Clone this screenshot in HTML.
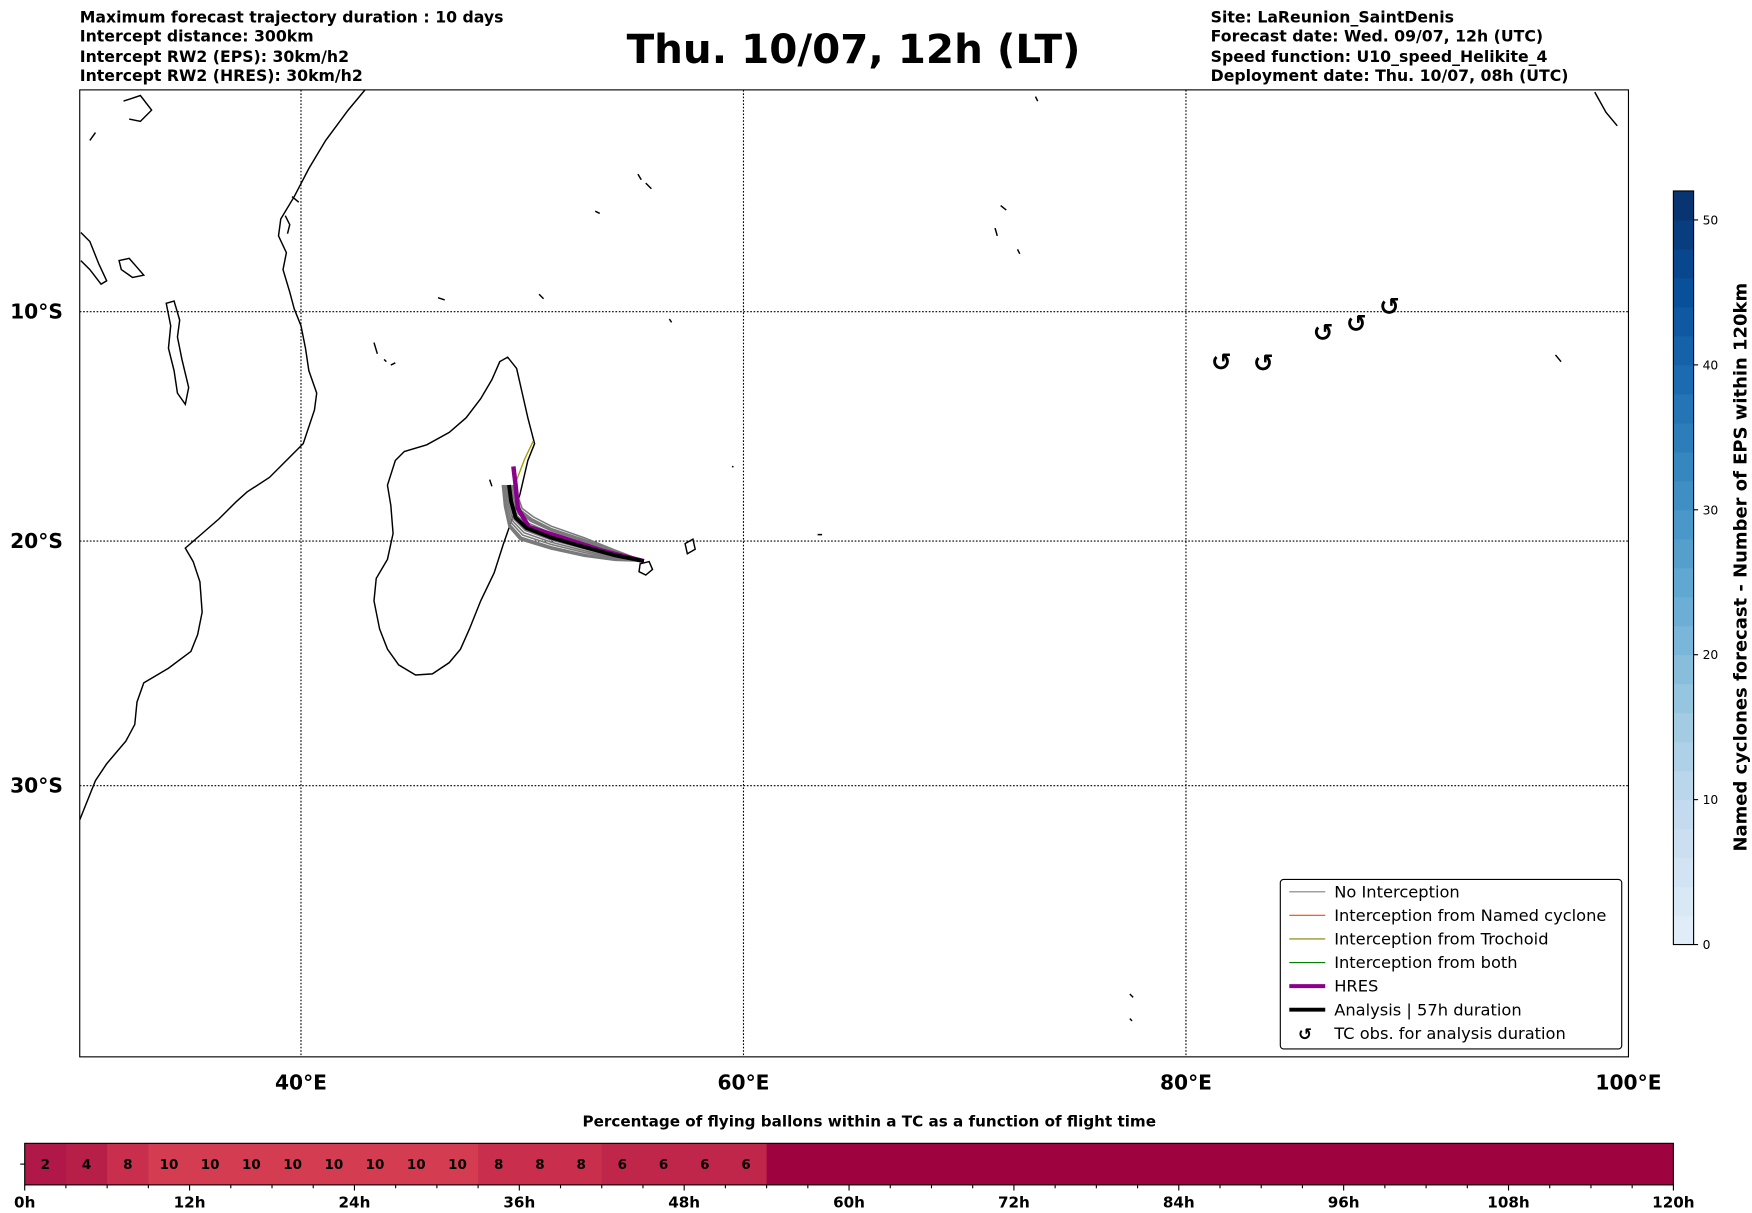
<!DOCTYPE html>
<html><head><meta charset="utf-8"><style>
html,body{margin:0;padding:0;background:#fff;}
svg{display:block;}
text{font-family:"DejaVu Sans","Liberation Sans",sans-serif;}
</style></head><body>
<svg id="fig" width="1752" height="1213" viewBox="0 0 1560 1080" xmlns="http://www.w3.org/2000/svg">
<rect width="1560" height="1080" fill="#fff"/>
<g font-size="14" font-weight="bold">
<text x="71" y="20">Maximum forecast trajectory duration : 10 days</text>
<text x="71" y="37">Intercept distance: 300km</text>
<text x="71" y="55">Intercept RW2 (EPS):  30km/h2</text>
<text x="71" y="72">Intercept RW2 (HRES): 30km/h2</text>
</g>
<text x="760" y="56" text-anchor="middle" font-size="36" font-weight="bold">Thu. 10/07, 12h (LT)</text>
<g font-size="14" font-weight="bold">
<text x="1078" y="20">Site: LaReunion_SaintDenis</text>
<text x="1078" y="37">Forecast date: Wed. 09/07, 12h (UTC)</text>
<text x="1078" y="55">Speed function: U10_speed_Helikite_4</text>
<text x="1078" y="72">Deployment date: Thu. 10/07, 08h (UTC)</text>
</g>
<defs><clipPath id="mapclip"><rect x="71" y="80" width="1379" height="861"/></clipPath></defs>
<g id="map">
<g id="grid"></g>
<g clip-path="url(#mapclip)" fill="none" stroke="#000" stroke-width="1.3">
<path d="M325,80 L310,98 L290,125 L275,150 L262,175 L250,195 L248,210 L255,225 L252,240 L258,260 L262,275 L268,290 L272,310 L275,330 L282,350 L280,365 L270,395 L255,410 L240,425 L220,438 L210,447 L195,462 L180,475 L165,488 L172,500 L178,518 L180,545 L176,565 L170,580 L150,595 L128,608 L122,625 L120,645 L112,660 L95,680 L85,695 L71,730"/>
<path d="M72,207 L80,215 L88,235 L95,250 L90,253 L80,240 L72,232"/>
<path d="M148,270 L155,268 L160,285 L158,300 L162,320 L168,345 L165,360 L158,350 L155,330 L150,310 L152,290 Z"/>
<path d="M106,232 L115,230 L122,238 L128,245 L118,247 L108,240 Z"/>
<path d="M452,318 L460,328 L465,350 L470,372 L476,395 L470,410 L463,440 L455,465 L448,485 L440,510 L428,535 L418,560 L410,578 L400,590 L385,600 L370,601 L355,592 L345,578 L338,560 L333,535 L335,515 L345,498 L350,475 L348,450 L345,432 L352,410 L360,402 L380,396 L400,385 L415,372 L428,355 L438,338 L445,322 Z"/>
<path d="M570,502 L578,500 L581,507 L575,512 L569,509 Z"/>
<path d="M610,484 L617,480 L619,489 L612,493 Z"/>
<path d="M333,305 L336,315 M348,325 L352,323 M342,320 L344,322"/>
<path d="M568,155 L571,160 M575,163 L580,168 M530,188 L534,190 M891,183 L896,187 M886,203 L888,210 M906,222 L908,226 M390,265 L396,267 M480,262 L484,266 M596,284 L598,287 M1385,316 L1390,322 M1006,885 L1009,888 M1006,907 L1008,909 M922,86 L924,90 M1420,82 L1430,100 L1440,112 M436,427 L438,433 M652,415 L653,416 M728,476 L732,476"/>
<path d="M254,192 L258,200 L256,208 M260,175 L266,180 M80,125 L85,118 M110,90 L125,85 L135,98 L125,108 L115,106"/>
</g>
<g id="traj" clip-path="url(#mapclip)"></g>
<g id="tcobs"></g>
<rect x="71" y="80" width="1379" height="861" fill="none" stroke="#000" stroke-width="1"/>
<g id="latlabels" font-size="18" font-weight="bold"></g>
<g id="lonlabels" font-size="18" font-weight="bold"></g>
</g>
<g>
<rect x="1140" y="783" width="304" height="151" rx="3" fill="#fff" stroke="#000" stroke-width="1"/>
<g font-size="14.5">
<line x1="1148" y1="794" x2="1180" y2="794" stroke="#808080" stroke-width="1"/><text x="1188" y="799">No Interception</text>
<line x1="1148" y1="815" x2="1180" y2="815" stroke="#ff4500" stroke-width="1"/><text x="1188" y="820">Interception from Named cyclone</text>
<line x1="1148" y1="836" x2="1180" y2="836" stroke="#808000" stroke-width="1"/><text x="1188" y="841">Interception from Trochoid</text>
<line x1="1148" y1="857" x2="1180" y2="857" stroke="#008000" stroke-width="1"/><text x="1188" y="862">Interception from both</text>
<line x1="1148" y1="878" x2="1180" y2="878" stroke="#8b008b" stroke-width="3.5"/><text x="1188" y="883">HRES</text>
<line x1="1148" y1="899" x2="1180" y2="899" stroke="#000" stroke-width="3.5"/><text x="1188" y="904">Analysis | 57h duration</text>
<text x="1162" y="926" font-size="15" font-weight="bold" text-anchor="middle">↺</text><text x="1188" y="925">TC obs. for analysis duration</text>
</g>
</g>
<g id="cbar"></g>
<text transform="translate(1555,505) rotate(-90)" text-anchor="middle" font-size="16" font-weight="bold">Named cyclones forecast - Number of EPS within 120km</text>
<text x="774" y="1003" text-anchor="middle" font-size="13.5" font-weight="bold">Percentage of flying ballons within a TC as a function of flight time</text>
<g id="pbar"></g>
</svg>
<script>
var lonTicks = [40, 60, 80, 100];
var latTicks = [10, 20, 30];
var analysisLon = [55.5, 54.2, 52.8, 51.3, 50.2, 49.7, 49.5, 49.4];
var analysisLat = [-20.85, -20.6, -20.25, -19.85, -19.45, -19.0, -18.3, -17.6];
var hresLon = [55.5, 53.6, 51.8, 50.3, 49.8, 49.7, 49.6];
var hresLat = [-20.85, -20.4, -19.85, -19.4, -18.6, -17.6, -16.8];
var ensOffsetsLat = [-0.5, -0.4, -0.3, -0.2, -0.1, 0.0, 0.1, 0.2, 0.3, 0.4, 0.5, -0.45, 0.35];
var trochLon = [49.7, 50.1, 50.5];
var trochLat = [-17.5, -16.5, -15.7];
var tcLon = [81.6, 83.5, 86.2, 87.7, 89.2];
var tcLat = [-12.2, -12.25, -10.9, -10.5, -9.75];
var cbarTicks = [0, 10, 20, 30, 40, 50];
var cbarMax = 52;
var pctValues = [2, 4, 8, 10, 10, 10, 10, 10, 10, 10, 10, 8, 8, 8, 6, 6, 6, 6];
var hourTicks = [0, 12, 24, 36, 48, 60, 72, 84, 96, 108, 120];

var NS = 'http://www.w3.org/2000/svg';
var PXDEG = 19.7, RAD = PXDEG * 180 / Math.PI, Y0 = 79.5;
function xLon(lon) { return 71 + (lon - 30) * PXDEG; }
function yLat(lat) { var rr = -lat * Math.PI / 180; return Y0 + RAD * Math.log(Math.tan(Math.PI / 4 + rr / 2)); }
function mk(tag, attrs, parent) { var e = document.createElementNS(NS, tag); for (var k in attrs) e.setAttribute(k, attrs[k]); parent.appendChild(e); return e; }
function pts(lons, lats, dlat) {
  dlat = dlat || 0;
  var n = lons.length, out = [];
  for (var i = 0; i < n; i++) {
    var w = Math.sin(Math.PI * i / (n - 1));
    out.push(xLon(lons[i] + dlat * 0.6 * (i > 3 ? 1 : 0)).toFixed(1) + ',' + yLat(lats[i] + dlat * w).toFixed(1));
  }
  return out.join(' ');
}
function yCb(v) { return 841 - v / cbarMax * (841 - 170); }
function xH(h) { return 22 + h / 120 * (1490 - 22); }
var BLUES = [[247,251,255],[222,235,247],[198,219,239],[158,202,225],[107,174,214],[66,146,198],[33,113,181],[8,81,156],[8,48,107]];
function blues(t) {
  var p = Math.max(0, Math.min(1, t)) * 8, k = Math.min(7, Math.floor(p)), u = p - k;
  var a = BLUES[k], b = BLUES[k + 1];
  return 'rgb(' + Math.round(a[0] + (b[0] - a[0]) * u) + ',' + Math.round(a[1] + (b[1] - a[1]) * u) + ',' + Math.round(a[2] + (b[2] - a[2]) * u) + ')';
}

try {
var grid = document.getElementById('grid');
lonTicks.forEach(function (l) { if (l < 100) { var e = mk('line', { x1: xLon(l), x2: xLon(l), y1: 80, y2: 941, stroke: '#000', 'stroke-width': 1, 'stroke-dasharray': '1.5,1.5' }, grid);

 } });
latTicks.forEach(function (l) { var e = mk('line', { x1: 71, x2: 1450, y1: yLat(-l), y2: yLat(-l), stroke: '#000', 'stroke-width': 1, 'stroke-dasharray': '1.5,1.5' }, grid);

 });
var latG = document.getElementById('latlabels');
latTicks.forEach(function (l) { var t = mk('text', { x: 56, y: yLat(-l) + 6, 'text-anchor': 'end' }, latG); t.textContent = l + '°S';

 });
var lonG = document.getElementById('lonlabels');
lonTicks.forEach(function (l) { var t = mk('text', { x: xLon(l), y: 970, 'text-anchor': 'middle' }, lonG); t.textContent = l + '°E';

 });
} catch (e) {}

try {
var tr = document.getElementById('traj');
ensOffsetsLat.forEach(function (d) { var p = mk('polyline', { points: pts(analysisLon, analysisLat, d), fill: 'none', stroke: '#7a7a7a', 'stroke-width': 1.4 }, tr);

 });
var ty = mk('polyline', { points: pts(trochLon, trochLat), fill: 'none', stroke: '#a0a000', 'stroke-width': 1.2 }, tr);


var hp = mk('polyline', { points: pts(hresLon, hresLat), fill: 'none', stroke: '#8b008b', 'stroke-width': 4 }, tr);


var ap = mk('polyline', { points: pts(analysisLon, analysisLat), fill: 'none', stroke: '#000', 'stroke-width': 3.5 }, tr);


var tc = document.getElementById('tcobs');
tcLon.forEach(function (l, i) { var t = mk('text', { x: xLon(l), y: yLat(tcLat[i]) + 8, 'text-anchor': 'middle', 'font-size': 22, 'font-weight': 'bold' }, tc); t.textContent = '↺';

 });
} catch (e) {}

try {
var cbG = document.getElementById('cbar');
var cbX = 1490, cbW = 18;
var nSeg = 26;
for (var i = 0; i < nSeg; i++) {
  var v0 = i * cbarMax / nSeg, v1 = (i + 1) * cbarMax / nSeg, f = 0.1 + 0.9 * (i + 0.5) / nSeg;
  var rc = mk('rect', { x: cbX, y: yCb(v1), width: cbW, height: yCb(v0) - yCb(v1) + 0.5, fill: blues(f) }, cbG);
  
  
}
mk('rect', { x: cbX, y: 170, width: cbW, height: 671, fill: 'none', stroke: '#000', 'stroke-width': 1 }, cbG);
cbarTicks.forEach(function (v) { mk('line', { x1: cbX + cbW, x2: cbX + cbW + 4, y1: yCb(v), y2: yCb(v), stroke: '#000' }, cbG);
var t = mk('text', { x: cbX + cbW + 8, y: yCb(v) + 4, 'font-size': 11 }, cbG); t.textContent = String(v);

 });
} catch (e) {}

try {
var pb = document.getElementById('pbar');
var bTop = 1018, bBot = 1055;
var colMap = { 0: '#9e023f', 2: '#b0184a', 4: '#b71f49', 6: '#c0254a', 8: '#c92f4c', 10: '#d43d51' };
function pctColor(v) { return colMap[v] || '#9e023f'; }
for (var j = 0; j < 40; j++) {
  var val = j < pctValues.length ? pctValues[j] : 0;
  var cell = mk('rect', { x: xH(j * 3), y: bTop, width: xH(3) - xH(0) + 0.5, height: bBot - bTop, fill: pctColor(val) }, pb);
  
  
  if (j < pctValues.length) {
    var tv = mk('text', { x: xH(j * 3 + 1.5), y: bTop + 23, 'text-anchor': 'middle', 'font-size': 12, 'font-weight': 'bold' }, pb); tv.textContent = String(val);
    
    
  }
}
mk('rect', { x: 22, y: bTop, width: 1468, height: bBot - bTop, fill: 'none', stroke: '#000', 'stroke-width': 1 }, pb);
mk('line', { x1: 18, x2: 22, y1: (bTop + bBot) / 2, y2: (bTop + bBot) / 2, stroke: '#000' }, pb);
for (var h = 0; h <= 120; h += 3) mk('line', { x1: xH(h), x2: xH(h), y1: bBot, y2: bBot + (h % 12 === 0 ? 5 : 3), stroke: '#000' }, pb);
hourTicks.forEach(function (hh) { var t = mk('text', { x: xH(hh), y: bBot + 20, 'text-anchor': 'middle', 'font-size': 13.5, 'font-weight': 'bold' }, pb); t.textContent = hh + 'h';

 });
} catch (e) {}
</script>
</body></html>
